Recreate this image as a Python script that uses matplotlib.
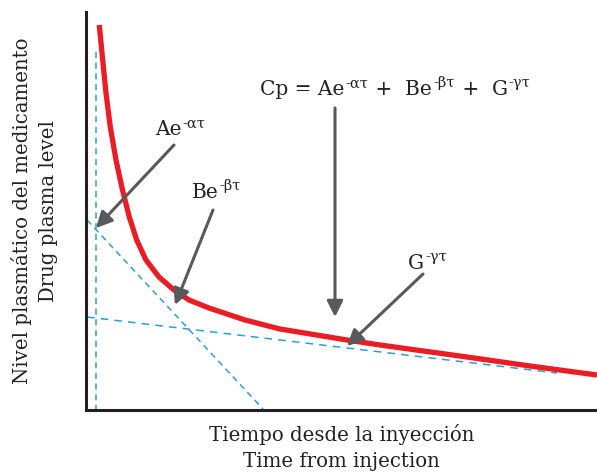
import matplotlib
matplotlib.use('Agg')
import matplotlib.pyplot as plt

plt.rcParams['font.family'] = 'DejaVu Serif'

# plasma level curve (time, level)
time_pts = [13.3, 16.7, 20, 24.3, 30, 36.5, 43.3, 50.7, 60, 73, 88, 103, 123,
            159, 194, 261, 294, 381, 444, 511]
level_pts = [385, 350, 317, 283, 250, 220, 193, 170, 150, 133, 120, 110, 102,
             90, 81, 70, 65, 53, 44, 35]

# dashed component lines (start, end)
vert_x = [10, 10]
vert_y = [358, 0]
alpha_x = [1, 177]
alpha_y = [190, 1]
gamma_x = [1, 471]
gamma_y = [93, 37]

# labels as (base, superscript) pieces, position, arrow tail, arrow tip
labels = [
    ([('Ae', '-ατ')], (69, 275), (88, 265), (10, 182)),
    ([('Be', '-βτ')], (106, 212), (127, 200), (89, 105)),
    ([('Cp = Ae', '-ατ'), (' +  Be', '-βτ'), (' +  G', '-γτ')], (174, 315), (249, 302), (249, 93)),
    ([('G', '-γτ')], (322, 141), (337, 136), (261, 64)),
]

fig = plt.figure(figsize=(5.97, 4.73), dpi=100)
ax = fig.add_axes([86 / 597, 63 / 473, 511 / 597, 398 / 473])
ax.set_xlim(0, 511)
ax.set_ylim(0, 398)
renderer = fig.canvas.get_renderer()

blue = '#2b9fd8'
ax.plot(vert_x, vert_y, color=blue, lw=1.1, ls=(0, (4, 3)), clip_on=False)
ax.plot(alpha_x, alpha_y, color=blue, lw=1.1, ls=(0, (4, 3)), clip_on=False)
ax.plot(gamma_x, gamma_y, color=blue, lw=1.1, ls=(0, (5, 4)), clip_on=False)

ax.plot(time_pts, level_pts, color='#ec1c24', lw=3.8, solid_capstyle='butt',
        solid_joinstyle='round', clip_on=False)


def put_text(pieces, pos):
    # lay out base text + small raised superscript, piece after piece
    dx = 0.0
    for base, sup in pieces:
        t = ax.annotate(base, xy=pos, xytext=(dx, 0), textcoords='offset points',
                        fontsize=14.5, color='#222222', ha='left', va='baseline')
        dx += t.get_window_extent(renderer).width * 72 / fig.dpi
        s = ax.annotate(sup, xy=pos, xytext=(dx + 0.8, 5.5), textcoords='offset points',
                        fontsize=10.5, color='#222222', ha='left', va='baseline')
        dx += s.get_window_extent(renderer).width * 72 / fig.dpi + 1.5


for pieces, pos, tail, tip in labels:
    put_text(pieces, pos)
    ax.annotate('', xy=tip, xytext=tail,
                arrowprops=dict(arrowstyle='-|>', color='#58595b', lw=2.2,
                                mutation_scale=24, shrinkA=0, shrinkB=0))

for side in ['top', 'right']:
    ax.spines[side].set_visible(False)
for side in ['left', 'bottom']:
    ax.spines[side].set_linewidth(2.2)
    ax.spines[side].set_color('#231f20')
ax.set_xticks([])
ax.set_yticks([])

ax.set_xlabel('Tiempo desde la inyección\nTime from injection', fontsize=14.2,
              color='#222222', labelpad=10, linespacing=1.45)
ax.set_ylabel('Nivel plasmático del medicamento\nDrug plasma level', fontsize=14.2,
              color='#222222', labelpad=20, linespacing=1.45)

fig.savefig('out.png', dpi=100)
